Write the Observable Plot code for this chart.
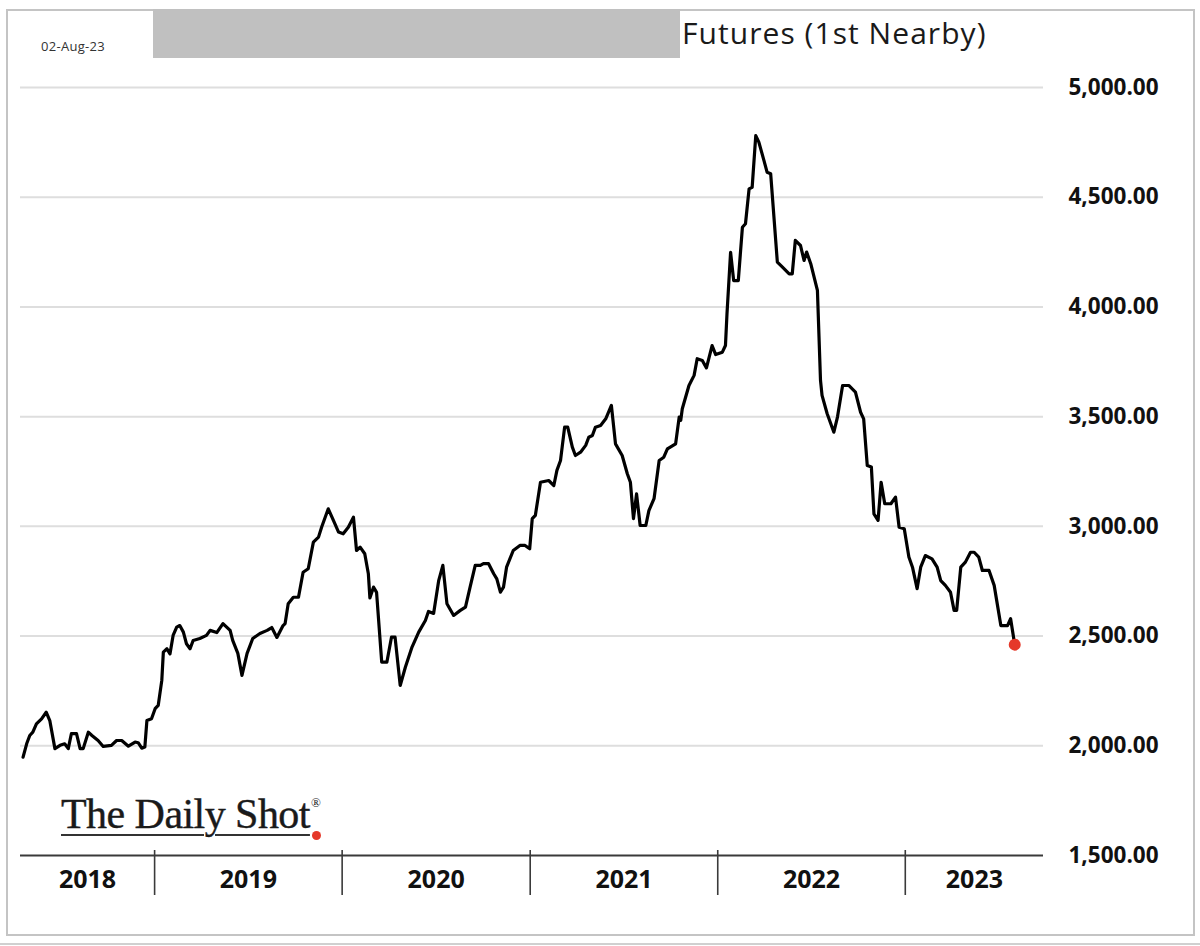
<!DOCTYPE html>
<html>
<head>
<meta charset="utf-8">
<script src="https://cdn.jsdelivr.net/npm/d3@7"></script>
<script src="https://cdn.jsdelivr.net/npm/@observablehq/plot@0.6"></script>
<style>
  html, body { margin: 0; padding: 0; background: #fff; }
  #wrap { position: relative; width: 1200px; height: 946px; overflow: hidden; font-family: "Open Sans", sans-serif; }
  #chart { position: absolute; left: 0; top: 0; }
  .frame { position: absolute; left: 6px; top: 9px; width: 1185px; height: 923px; border: 2px solid #c4c4c4; box-sizing: content-box; pointer-events: none; }
  .outer { position: absolute; left: 0; top: 943px; width: 1200px; height: 2px; background: #d0d0d0; }
  .mask { position: absolute; left: 153px; top: 9px; width: 527px; height: 49px; background: #c0c0c0; }
  .title { position: absolute; left: 682px; top: 12px; font-size: 30px; letter-spacing: 1.05px; color: #1a1a1a; white-space: nowrap; }
  .date { position: absolute; left: 41px; top: 37px; font-size: 13px; letter-spacing: 0.3px; color: #333; white-space: nowrap; }
  .logo { position: absolute; left: 61px; top: 790px; font-family: "Liberation Serif", "DejaVu Serif", serif; font-size: 42px; color: #1a1a1a; white-space: nowrap; }
  .logo .u { letter-spacing: -0.55px; -webkit-text-stroke: 0.4px #1a1a1a; text-decoration: underline; text-decoration-color: #333; text-decoration-thickness: 2px; text-underline-offset: 6px; text-decoration-skip-ink: auto; }
  .logo .rd { display: inline-block; width: 9px; height: 9px; border-radius: 50%; background: #e5392a; vertical-align: -12px; margin-left: 2px; }
  .logo sup { font-size: 13px; vertical-align: 21px; margin-left: -10px; }
</style>
</head>
<body>
<div id="wrap">
  <div id="chart"></div>
  <div class="frame"></div>
  <div class="outer"></div>
  <div class="mask"></div>
  <div class="title">Futures (1st Nearby)</div>
  <div class="date">02-Aug-23</div>
  <div class="logo"><span class="u">The Daily Shot</span><span class="rd"></span><sup>®</sup></div>
</div>
<script>
// ---- data ----
const dates = [
  "2018-04-20","2018-04-27","2018-05-03","2018-05-09","2018-05-16","2018-05-26","2018-06-04","2018-06-11","2018-06-21","2018-07-01",
  "2018-07-10","2018-07-17","2018-07-23","2018-08-02","2018-08-09","2018-08-15","2018-08-25","2018-09-01","2018-09-13","2018-09-23",
  "2018-10-09","2018-10-19","2018-10-29","2018-11-11","2018-11-24","2018-11-30","2018-12-07","2018-12-13","2018-12-17","2018-12-26",
  "2019-01-02","2019-01-08","2019-01-15","2019-01-18","2019-01-25","2019-01-31","2019-02-06","2019-02-13","2019-02-19","2019-02-26",
  "2019-03-04","2019-03-11","2019-03-17","2019-03-30","2019-04-12","2019-04-19","2019-05-02","2019-05-14","2019-05-28","2019-06-02",
  "2019-06-12","2019-06-20","2019-06-30","2019-07-11","2019-07-25","2019-08-08","2019-08-17","2019-08-27","2019-09-08","2019-09-12",
  "2019-09-18","2019-09-28","2019-10-08","2019-10-17","2019-10-27","2019-11-06","2019-11-16","2019-11-22","2019-12-05","2019-12-15",
  "2019-12-25","2020-01-03","2020-01-13","2020-01-23","2020-01-29","2020-02-05","2020-02-14","2020-02-21","2020-02-24","2020-03-02",
  "2020-03-08","2020-03-18","2020-03-28","2020-04-06","2020-04-13","2020-04-23","2020-05-03","2020-05-16","2020-05-29","2020-06-11",
  "2020-06-17","2020-06-27","2020-07-07","2020-07-15","2020-07-23","2020-08-05","2020-08-18","2020-08-28","2020-09-06","2020-09-16",
  "2020-09-26","2020-10-02","2020-10-12","2020-10-22","2020-10-28","2020-11-04","2020-11-10","2020-11-16","2020-11-29","2020-12-12",
  "2020-12-22","2020-12-31","2021-01-05","2021-01-11","2021-01-21","2021-02-06","2021-02-16","2021-02-22","2021-03-01","2021-03-09",
  "2021-03-15","2021-03-24","2021-03-30","2021-04-09","2021-04-19","2021-04-25","2021-05-02","2021-05-08","2021-05-18","2021-05-28",
  "2021-06-08","2021-06-16","2021-06-29","2021-07-09","2021-07-15","2021-07-21","2021-07-27","2021-08-03","2021-08-14","2021-08-20",
  "2021-08-30","2021-09-09","2021-09-18","2021-09-25","2021-10-11","2021-10-18","2021-10-21","2021-10-24","2021-11-06","2021-11-16",
  "2021-11-22","2021-12-02","2021-12-10","2021-12-21","2021-12-28","2022-01-10","2022-01-16","2022-01-19","2022-01-26","2022-02-01",
  "2022-02-10","2022-02-18","2022-02-24","2022-03-03","2022-03-09","2022-03-16","2022-03-22","2022-04-01","2022-04-07","2022-04-14",
  "2022-04-27","2022-05-07","2022-05-20","2022-05-26","2022-06-01","2022-06-11","2022-06-18","2022-06-23","2022-07-01","2022-07-14",
  "2022-07-20","2022-07-23","2022-08-02","2022-08-15","2022-08-22","2022-09-01","2022-09-13","2022-09-26","2022-10-06","2022-10-12",
  "2022-10-19","2022-10-27","2022-11-01","2022-11-09","2022-11-15","2022-11-22","2022-12-04","2022-12-13","2022-12-20","2022-12-30",
  "2023-01-08","2023-01-15","2023-01-24","2023-01-31","2023-02-09","2023-02-22","2023-03-04","2023-03-11","2023-03-20","2023-03-30",
  "2023-04-06","2023-04-11","2023-04-19","2023-04-28","2023-05-08","2023-05-15","2023-05-24","2023-05-31","2023-06-13","2023-06-23",
  "2023-07-06","2023-07-19","2023-07-25","2023-08-02"
];
const values = [
  1948,2009,2047,2062,2100,2123,2153,2115,1987,2002,
  2009,1987,2055,2055,1987,1987,2062,2047,2024,1997,
  2002,2024,2024,1998,2017,2014,1989,1994,2115,2123,
  2169,2184,2298,2427,2442,2419,2503,2541,2548,2518,
  2465,2442,2480,2489,2503,2526,2516,2557,2526,2480,
  2421,2321,2421,2489,2512,2526,2539,2494,2548,2557,
  2647,2677,2677,2791,2807,2928,2951,2996,3080,3027,
  2974,2966,2996,3042,2890,2905,2875,2784,2674,2723,
  2699,2381,2381,2495,2495,2275,2358,2450,2518,2571,
  2612,2603,2754,2822,2647,2594,2617,2632,2723,2822,
  2822,2830,2830,2784,2761,2700,2723,2814,2890,2913,
  2913,2898,3035,3050,3201,3209,3186,3255,3300,3452,
  3452,3361,3323,3338,3369,3406,3414,3452,3460,3490,
  3551,3376,3323,3240,3201,3035,3148,3004,3004,3072,
  3126,3300,3315,3353,3376,3498,3483,3536,3642,3688,
  3764,3756,3722,3824,3783,3794,3824,3969,4249,4120,
  4120,4363,4379,4538,4545,4781,4751,4667,4614,4607,
  4204,4181,4151,4151,4303,4280,4212,4250,4197,4075,
  3665,3597,3513,3429,3498,3642,3642,3612,3520,3490,
  3277,3270,3057,3027,3201,3103,3103,3133,2996,2989,
  2860,2814,2716,2814,2867,2852,2814,2753,2731,2700,
  2617,2617,2814,2837,2882,2882,2860,2799,2799,2731,
  2548,2548,2579,2461
];
const yTicks = [1500, 2000, 2500, 3000, 3500, 4000, 4500, 5000];
const yearLabels = ["2018", "2019", "2020", "2021", "2022", "2023"];
const xStart = "2018-04-15";
const xEnd = "2023-09-27";

// ---- build ----
const data = dates.map((d, i) => ({date: new Date(d), value: values[i]}));
const last = [data[data.length - 1]];
const x0 = new Date(xStart), x1 = new Date(xEnd);
const yearBounds = yearLabels.slice(1).map(y => new Date(`${y}-01-01`));
const yearMid = yearLabels.map(y => {
  const a = Math.max(+new Date(`${y}-01-01`), +x0);
  const b = Math.min(+new Date(`${+y + 1}-01-01`), +x1);
  return {label: y, date: new Date((a + b) / 2)};
});

const chart = Plot.plot({
  width: 1200,
  height: 946,
  marginLeft: 20,
  marginRight: 157,
  marginTop: 87,
  marginBottom: 91,
  style: {background: "transparent", fontFamily: "'Open Sans', sans-serif", color: "#111"},
  x: {type: "utc", domain: [x0, x1]},
  y: {domain: [1500, 5000]},
  marks: [
    Plot.ruleY(yTicks.slice(1), {stroke: "#dedede", strokeWidth: 2}),
    Plot.ruleY([1500], {stroke: "#3a3a3a", strokeWidth: 2}),
    Plot.axisX(yearBounds, {anchor: "bottom", tickSize: 45, dy: -5, stroke: "#3a3a3a", strokeWidth: 1.6, tickFormat: () => "", label: null}),
    Plot.text(yearMid, {x: "date", text: "label", frameAnchor: "bottom", dy: 15, fontSize: 25, fontWeight: "bold", fill: "#111", lineAnchor: "top"}),
    Plot.axisY(yTicks, {anchor: "right", tickSize: 0, tickPadding: 25, textAnchor: "start", tickFormat: d3.format(",.2f"), fontSize: 22.5, fontWeight: "bold", fill: "#111", label: null}),
    Plot.lineY(data, {x: "date", y: "value", stroke: "#000", strokeWidth: 3.2, strokeLinejoin: "round"}),
    Plot.dot(last, {x: "date", y: "value", r: 6, fill: "#e5392a", stroke: "none"})
  ]
});
document.getElementById("chart").appendChild(chart);
</script>
</body>
</html>
